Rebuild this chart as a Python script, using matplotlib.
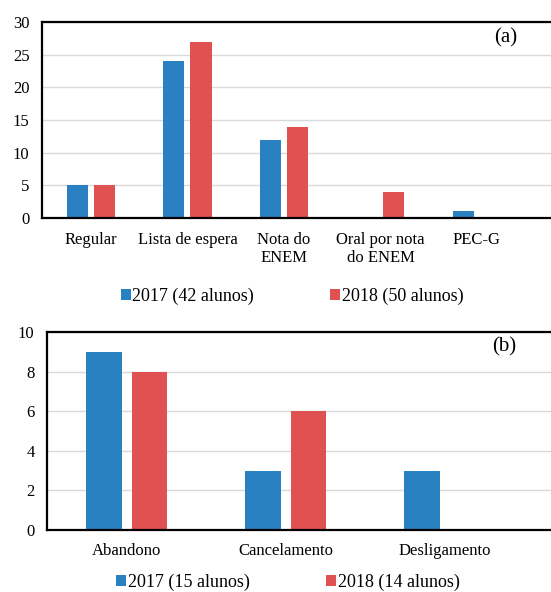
import numpy as np
import matplotlib
matplotlib.use("Agg")
import matplotlib.pyplot as plt

plt.rcParams["font.family"] = ["Liberation Serif", "DejaVu Serif"]

# dados (a) - forma de ingresso
cat_a = ["Regular", "Lista de espera", "Nota do\nENEM", "Oral por nota\ndo ENEM", "PEC-G"]
v2017_a = [5, 24, 12, 0, 1]
v2018_a = [5, 27, 14, 4, 0]
leg_a = ["2017 (42 alunos)", "2018 (50 alunos)"]

# dados (b) - forma de evasao
cat_b = ["Abandono", "Cancelamento", "Desligamento"]
v2017_b = [9, 3, 3]
v2018_b = [8, 6, 0]
leg_b = ["2017 (15 alunos)", "2018 (14 alunos)"]

azul = "#2A81C2"
verm = "#E05252"

fig = plt.figure(figsize=(5.51, 5.92), dpi=100)

def painel(ax, cats, a, b, legs, ymax, ystep, w, off, xlim, letra, pos_letra, pos_leg, pad_x):
    x = np.arange(len(cats))
    b1 = ax.bar(x - off, a, w, color=azul, zorder=3, label=legs[0])
    b2 = ax.bar(x + off, b, w, color=verm, zorder=3, label=legs[1])
    ax.set_xlim(*xlim)
    ax.set_ylim(0, ymax)
    ax.set_yticks(np.arange(0, ymax + 1, ystep))
    ax.set_xticks(x)
    ax.set_xticklabels(cats, fontsize=12, linespacing=1.2)
    ax.tick_params(axis="x", length=0, pad=pad_x)
    ax.tick_params(axis="y", length=0, pad=9, labelsize=12)
    ax.grid(axis="y", color="#D9D9D9", linewidth=1, zorder=0)
    for s in ax.spines.values():
        s.set_linewidth(1.6)
        s.set_color("black")
        s.set_zorder(4)
    fig.text(pos_letra[0], pos_letra[1], letra, fontsize=15, ha="center", va="center")
    ax.legend(handles=[b1, b2], loc="center", bbox_to_anchor=pos_leg,
              bbox_transform=fig.transFigure, ncol=2, frameon=False, fontsize=13,
              handlelength=0.55, handleheight=0.55, handletextpad=0.1,
              columnspacing=4.2, borderaxespad=0)

ax1 = fig.add_axes([0.0762, 0.6318, 0.933, 0.331])
painel(ax1, cat_a, v2017_a, v2018_a, leg_a, 30, 5, 0.218, 0.14,
       (-0.508, 4.82), "(a)", (0.917, 0.936), (292 / 551, 1 - 296 / 592), 10)

ax2 = fig.add_axes([0.0853, 0.1047, 0.924, 0.3345])
painel(ax2, cat_b, v2017_b, v2018_b, leg_b, 10, 2, 0.223, 0.143,
       (-0.5, 2.70), "(b)", (0.915, 0.414), (288 / 551, 1 - 582 / 592), 9)

fig.savefig("out.png", dpi=100)
